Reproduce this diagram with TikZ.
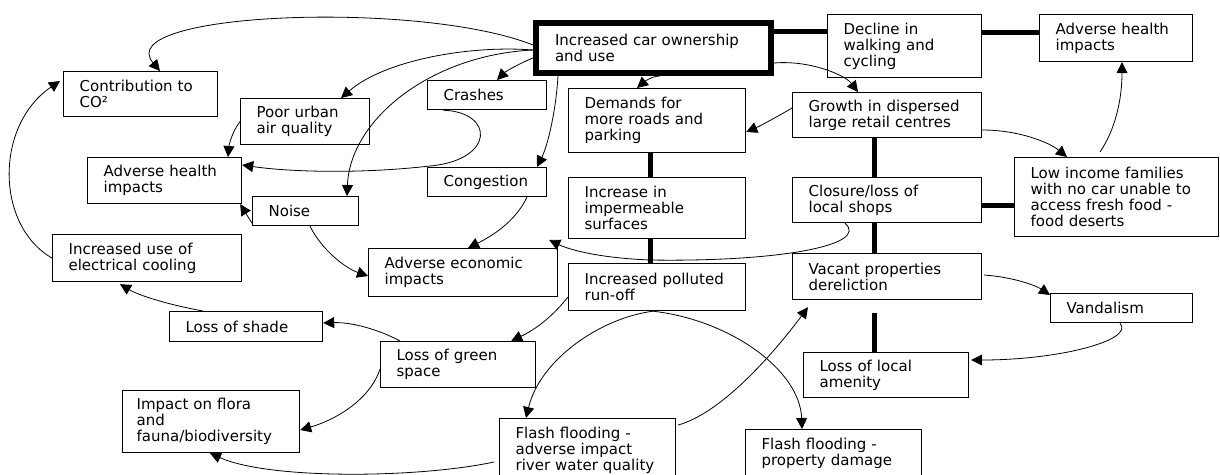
\documentclass[tikz,border=0pt]{standalone}
\usepackage{fontspec}
\newfontfamily\dv{DejaVu Sans}
\usetikzlibrary{arrows.meta,calc}
\tikzset{
  box/.style={draw, line width=1.2pt, anchor=north west, align=left, inner xsep=16pt, inner ysep=0pt,
    font=\dv\fontsize{15pt}{16pt}\selectfont},
  arr/.style={line width=0.8pt, -{Triangle[length=11pt,width=11pt]}},
  link/.style={line width=5pt},
}
\begin{document}
\begin{tikzpicture}[x=1pt,y=-1pt]
\fill[white] (0,0) rectangle (1220,474);
\useasboundingbox (0,0) rectangle (1220,474);
% boxes
\node[box, line width=6pt, inner xsep=19pt, text width=197pt, minimum height=50pt] (car) at (533,20) {Increased car ownership\\and use};
\node[box, text width=122pt, minimum height=63pt] (decl) at (827,14) {Decline in\\walking and\\cycling};
\node[box, text width=121pt, minimum height=47pt] (advR) at (1039,14) {Adverse health\\impacts};
\node[box, text width=122pt, minimum height=45pt] (co2) at (63,71) {Contribution to\\CO²};
\node[box, text width=97pt, minimum height=46pt] (poor) at (240,98) {Poor urban\\air quality};
\node[box, text width=87pt, minimum height=29pt] (crashes) at (427,80) {Crashes};
\node[box, text width=145pt, minimum height=64pt] (dem) at (568,88) {Demands for\\more roads and\\parking};
\node[box, text width=157pt, minimum height=45pt] (growth) at (792,92) {Growth in dispersed\\large retail centres};
\node[box, text width=122pt, minimum height=46pt] (advL) at (87,157) {Adverse health\\impacts};
\node[box, text width=87pt, minimum height=29pt] (cong) at (427,167) {Congestion};
\node[box, text width=74pt, minimum height=29pt] (noise) at (252,196) {Noise};
\node[box, text width=145pt, minimum height=61pt] (imp) at (568,177) {Increase in\\impermeable\\surfaces};
\node[box, text width=157pt, minimum height=45pt] (closure) at (792,177) {Closure/loss of\\local shops};
\node[box, text width=172pt, minimum height=79pt] (low) at (1014,157) {Low income families\\with no car unable to\\access fresh food -\\food deserts};
\node[box, text width=157pt, minimum height=47pt] (cool) at (52,234) {Increased use of\\electrical cooling};
\node[box, text width=157pt, minimum height=48pt] (econ) at (368,248) {Adverse economic\\impacts};
\node[box, text width=145pt, minimum height=47pt] (poll) at (568,263) {Increased polluted\\run-off};
\node[box, text width=157pt, minimum height=46pt] (vacant) at (792,253) {Vacant properties\\dereliction};
\node[box, text width=110pt, minimum height=29pt] (vand) at (1050,293) {Vandalism};
\node[box, text width=121pt, minimum height=30pt] (shade) at (169,311) {Loss of shade};
\node[box, text width=123pt, minimum height=46pt] (green) at (380,341) {Loss of green\\space};
\node[box, text width=133pt, minimum height=45pt] (amen) at (803,352) {Loss of local\\amenity};
\node[box, inner xsep=14pt, text width=149pt, minimum height=62pt] (flora) at (122,390) {Impact on flora\\and\\fauna/biodiversity};
\node[box, text width=144pt, minimum height=64pt] (flashA) at (499,418) {Flash flooding -\\adverse impact\\river water quality};
\node[box, text width=144pt, minimum height=47pt] (flashP) at (745,429) {Flash flooding -\\property damage};
% thick links
\draw[link] ($(car.north east)+(0,11)$) -- ($(decl.north west)+(0,17)$);
\draw[link] ($(decl.north east)+(0,18)$) -- ($(advR.north west)+(0,18)$);
\draw[link] ($(dem.south west)+(82,0)$) -- ($(imp.north west)+(82,0)$);
\draw[link] ($(imp.south west)+(82,0)$) -- ($(poll.north west)+(82,0)$);
\draw[link] ($(growth.south west)+(82,0)$) -- ($(closure.north west)+(82,0)$);
\draw[link] ($(closure.north east)+(0,28)$) -- ($(low.north west)+(0,48)$);
\draw[link] ($(closure.south west)+(82,0)$) -- ($(vacant.north west)+(82,0)$);
\coordinate (vgap) at ($(vacant.south west)+(82,13)$);
\draw[link] (vgap) -- ($(amen.north west)+(71,0)$);
% arrows
\draw[arr] ($(car.north west)+(0,25)$) .. controls (420,0) and (110,12) .. ($(co2.north west)+(97,0)$);
\draw[arr] ($(car.north west)+(0,30)$) .. controls (470,45) and (385,60) .. ($(poor.north west)+(101,0)$);
\draw[arr] ($(car.north west)+(0,30)$) .. controls (430,55) and (350,120) .. ($(noise.north west)+(95,0)$);
\draw[arr] ($(car.north west)+(0,38)$) .. controls (518,64) and (505,72) .. ($(crashes.north west)+(70,0)$);
\draw[arr] ($(car.south west)+(25,0)$) .. controls (556,110) and (548,145) .. ($(cong.north west)+(110,0)$);
\draw[arr] ($(car.south west)+(127,0)$) .. controls (652,76) and (644,82) .. ($(dem.north west)+(69,0)$);
\draw[arr] ($(car.north east)+(0,43)$) .. controls (810,60) and (845,75) .. ($(growth.north west)+(66,0)$);
\draw[arr] ($(crashes.south west)+(16,0)$) .. controls (495,112) and (495,160) .. (430,166) .. controls (360,174) and (290,172) .. ($(advL.north east)+(0,8)$);
\draw[arr] (poor.west) .. controls (232,132) and (229,145) .. ($(advL.north west)+(141,0)$);
\draw[arr] ($(noise.south west)+(0,-3)$) -- ($(advL.south east)+(-2,0)$);
\draw[arr] ($(noise.south west)+(58,0)$) .. controls (322,250) and (345,268) .. ($(econ.north west)+(0,28)$);
\draw[arr] ($(cong.south west)+(100,0)$) .. controls (515,222) and (492,236) .. ($(econ.north west)+(100,0)$);
\draw[arr] ($(closure.south west)+(53,0)$) .. controls (870,245) and (780,262) .. (650,260) .. controls (600,258) and (570,250) .. ($(econ.north east)+(-9,-8)$);
\draw[arr] ($(growth.north west)+(0,16)$) .. controls (775,118) and (760,126) .. ($(dem.north east)+(0,44)$);
\draw[arr] ($(growth.north east)+(0,38)$) .. controls (1020,130) and (1050,143) .. ($(low.north west)+(53,0)$);
\draw[arr] ($(low.north west)+(86,-5)$) .. controls (1115,130) and (1122,100) .. ($(advR.south west)+(83,0)$);
\draw[arr] ($(vacant.north east)+(2,22)$) .. controls (1012,277) and (1035,285) .. ($(vand.north west)+(0,2)$);
\draw[arr] ($(vand.south west)+(70,0)$) .. controls (1135,340) and (1060,360) .. ($(amen.north east)+(2,8)$);
\draw[arr] ($(poll.north west)+(0,34)$) .. controls (548,322) and (530,332) .. ($(green.north east)+(-25,0)$);
\draw[arr] ($(poll.south west)+(85,0)$) .. controls (600,318) and (540,360) .. ($(flashA.north west)+(27,0)$);
\draw[arr] ($(poll.south west)+(85,0)$) .. controls (730,320) and (800,370) .. ($(flashP.north west)+(57,0)$);
\draw[arr] ($(flashA.north east)+(2,7)$) .. controls (725,412) and (780,345) .. ($(vacant.south west)+(16,7)$);
\draw[arr] ($(green.north west)+(20,0)$) .. controls (380,330) and (352,322) .. ($(shade.north east)+(0,12)$);
\draw[arr] ($(shade.north west)+(34,0)$) .. controls (170,305) and (140,296) .. ($(cool.south west)+(68,2)$);
\draw[arr] ($(green.north west)+(0,28)$) .. controls (370,400) and (335,420) .. ($(flora.north east)+(0,40)$);
\draw[arr] ($(flashA.north west)+(-5,44)$) .. controls (420,478) and (270,480) .. ($(flora.south west)+(88,0)$);
\draw[arr] (cool.west) .. controls (-5,225) and (-5,125) .. ($(co2.north west)+(-3,10)$);
\end{tikzpicture}
\end{document}
